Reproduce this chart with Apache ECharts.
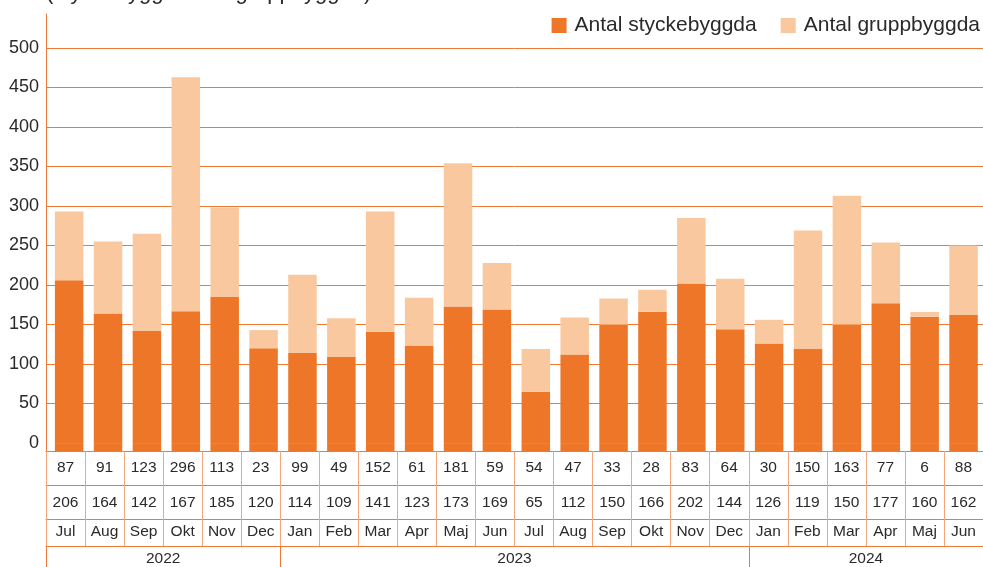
<!DOCTYPE html>
<html>
<head>
<meta charset="utf-8">
<title>Antal styckebyggda och gruppbyggda</title>
<script src="https://cdn.jsdelivr.net/npm/echarts@6/dist/echarts.min.js"></script>
<style>
	html, body { margin: 0; padding: 0; background: #fff; }
	#chart1 { width: 983px; height: 567px; }
</style>
</head>
<body>
<div id="chart1"></div>
<script>
// data
var months = ['Jul', 'Aug', 'Sep', 'Okt', 'Nov', 'Dec', 'Jan', 'Feb', 'Mar', 'Apr', 'Maj', 'Jun',
	'Jul', 'Aug', 'Sep', 'Okt', 'Nov', 'Dec', 'Jan', 'Feb', 'Mar', 'Apr', 'Maj', 'Jun'];
var stycke = [206, 164, 142, 167, 185, 120, 114, 109, 141, 123, 173, 169,
	65, 112, 150, 166, 202, 144, 126, 119, 150, 177, 160, 162];
var grupp = [87, 91, 123, 296, 113, 23, 99, 49, 152, 61, 181, 59,
	54, 47, 33, 28, 83, 64, 30, 150, 163, 77, 6, 88];
var years = ['2022', '2023', '2024'];
var yearSpans = [6, 12, 6];

var dark = '#EE7629';
var light = '#F9C89F';
var lineCol = '#EF7A35';
var cellCol = '#F4A57A';
var txt = '#2a2a2a';

window.onload = function() {
	char1();
}

function char1() {
	let myChart = echarts.init(document.getElementById('chart1'));

	// year boundaries and label positions on the table axis
	let yearEdges = [0];
	let yearMids = [];
	let acc = 0;
	yearSpans.forEach(function(s) {
		yearMids.push(acc + s / 2);
		acc += s;
		yearEdges.push(acc);
	});

	function rowAxis(rowData, offset, len, margin) {
		return {
			type: 'category',
			gridIndex: 1,
			position: 'bottom',
			offset: offset,
			data: months,
			axisLine: { show: true, onZero: false, lineStyle: { color: lineCol, width: 1 } },
			axisTick: { show: true, interval: 0, length: len, lineStyle: { color: cellCol, width: 1 } },
			axisLabel: {
				interval: 0,
				margin: margin,
				verticalAlign: 'middle',
				fontSize: 15.5,
				color: txt,
				formatter: function(v, i) {
					return rowData[i];
				}
			}
		};
	}

	option = {
		animation: false,
		textStyle: { fontFamily: 'Liberation Sans, Arial, sans-serif' },
		title: {
			text: '(styckebyggda och gruppbyggda)',
			left: 46,
			top: -18,
			padding: 0,
			textStyle: { fontSize: 22, fontWeight: 'normal', color: txt }
		},
		legend: {
			data: ['Antal styckebyggda', 'Antal gruppbyggda'],
			right: 3,
			top: 15,
			padding: 0,
			icon: 'rect',
			itemWidth: 15,
			itemHeight: 15,
			itemGap: 24,
			textStyle: { fontSize: 21, color: txt, padding: [0, 0, 0, 3] }
		},
		grid: [
			{ left: 49.7, right: -4.4, top: 14, bottom: 116 },
			{ left: 46, right: -7.5, top: 14, bottom: 124 }
		],
		xAxis: [
			{ type: 'category', gridIndex: 0, data: months, show: false },
			rowAxis(grupp, 8, 34, 17),
			rowAxis(stycke, 42, 34, 17.5),
			rowAxis(months, 76, 27, 13),
			{
				type: 'value',
				gridIndex: 1,
				position: 'bottom',
				offset: 103,
				min: 0,
				max: months.length,
				axisLine: { show: true, onZero: false, lineStyle: { color: lineCol, width: 1 } },
				axisTick: { show: true, customValues: yearEdges, length: 25, lineStyle: { color: lineCol, width: 1 } },
				axisLabel: {
					customValues: yearMids,
					margin: 13,
					verticalAlign: 'middle',
					fontSize: 15.5,
					color: txt,
					formatter: function(v) {
						return years[yearMids.indexOf(v)];
					}
				},
				splitLine: { show: false }
			}
		],
		yAxis: [{
			type: 'value',
			gridIndex: 0,
			min: -10,
			max: 543,
			offset: 3.7,
			axisLine: { show: true, onZero: false, lineStyle: { color: lineCol, width: 1 } },
			axisTick: { show: false },
			axisLabel: { show: false },
			splitLine: { show: false }
		}, {
			type: 'value',
			gridIndex: 1,
			min: 0,
			max: 543,
			interval: 50,
			axisLine: { show: false },
			axisTick: { show: false },
			axisLabel: { fontSize: 18, color: txt, margin: 7, showMaxLabel: false },
			splitLine: {
				show: true,
				showMinLine: false,
				showMaxLine: false,
				lineStyle: { color: lineCol, width: 1 }
			}
		}],
		series: [{
			name: 'Antal styckebyggda',
			type: 'bar',
			stack: 'total',
			xAxisIndex: 0,
			yAxisIndex: 0,
			barWidth: 28.5,
			itemStyle: { color: dark },
			data: stycke
		}, {
			name: 'Antal gruppbyggda',
			type: 'bar',
			stack: 'total',
			xAxisIndex: 0,
			yAxisIndex: 0,
			barWidth: 28.5,
			itemStyle: { color: light },
			data: grupp
		}, {
			// bars run a little below zero down to the table edge
			name: 'foot',
			type: 'bar',
			stack: 'total',
			xAxisIndex: 0,
			yAxisIndex: 0,
			barWidth: 28.5,
			silent: true,
			itemStyle: { color: dark },
			data: months.map(function() { return -10; })
		}]
	};

	myChart.setOption(option);
	window.addEventListener('resize', function() {
		myChart.resize();
	})
}
</script>
</body>
</html>
